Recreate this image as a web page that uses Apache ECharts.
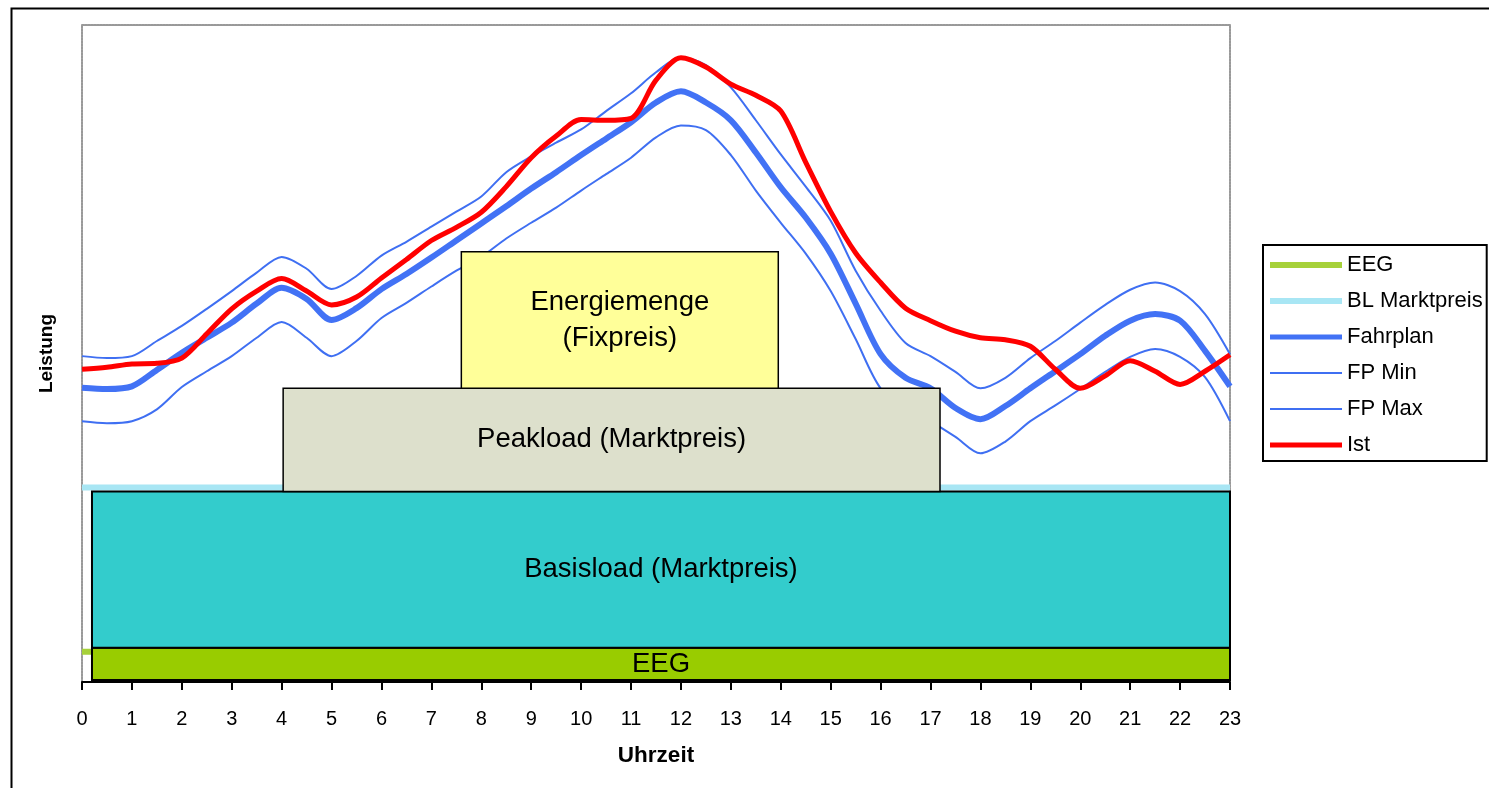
<!DOCTYPE html>
<html>
<head>
<meta charset="utf-8">
<script src="https://cdn.jsdelivr.net/npm/echarts@6/dist/echarts.min.js"></script>
<style>
  html, body { margin: 0; padding: 0; background: #fff; }
  #chart { width: 1489px; height: 788px; }
</style>
</head>
<body>
<div id="chart"></div>
<script>
// Uhrzeit (halbstuendlich)
var halfHours = [0, 0.5, 1, 1.5, 2, 2.5, 3, 3.5, 4, 4.5, 5, 5.5, 6, 6.5, 7, 7.5, 8, 8.5, 9, 9.5,
    10, 10.5, 11, 11.5, 12, 12.5, 13, 13.5, 14, 14.5, 15, 15.5, 16, 16.5, 17, 17.5, 18, 18.5,
    19, 19.5, 20, 20.5, 21, 21.5, 22, 22.5, 23];

var fahrplan = [44.8, 44.6, 45.0, 47.5, 50.1, 52.4, 54.7, 57.6, 60.0, 58.3, 55.1, 56.9, 59.8, 62.1,
    64.6, 67.2, 69.8, 72.4, 75.1, 77.6, 80.2, 82.7, 85.2, 88.2, 89.9, 88.2, 85.5, 80.6, 75.3, 70.7,
    65.2, 57.6, 49.9, 46.3, 44.7, 41.7, 40.0, 42.0, 44.7, 47.3, 49.9, 52.7, 55.0, 56.0, 55.0, 50.4, 45.0];

var fpMax = [49.6, 49.3, 49.6, 51.9, 54.2, 56.8, 59.5, 62.3, 64.7, 62.9, 59.8, 61.8, 64.9, 67.0,
    69.3, 71.6, 73.9, 77.6, 80.0, 82.1, 84.1, 86.9, 89.6, 92.8, 95.1, 93.9, 90.5, 85.5, 80.3, 75.4,
    70.2, 62.6, 56.5, 51.6, 49.6, 47.2, 44.7, 46.3, 49.3, 51.9, 54.7, 57.4, 59.7, 60.8, 59.5, 56.0, 49.9];

var fpMin = [39.7, 39.4, 39.7, 41.5, 44.9, 47.3, 49.6, 52.4, 54.8, 52.4, 49.6, 51.9, 55.4, 57.7,
    60.2, 62.6, 64.7, 67.5, 69.9, 72.2, 74.8, 77.3, 79.8, 82.9, 84.7, 84.0, 80.2, 74.8, 69.9, 65.2,
    59.5, 52.2, 44.7, 42.0, 39.7, 37.3, 34.8, 36.6, 39.7, 42.1, 44.6, 47.2, 49.5, 50.7, 49.5, 46.4, 39.7];

var ist = [47.6, 47.9, 48.4, 48.5, 49.3, 53.0, 56.8, 59.5, 61.4, 59.5, 57.4, 58.6, 61.5, 64.3,
    67.2, 69.2, 71.5, 75.4, 79.8, 83.1, 85.6, 85.5, 85.8, 91.6, 95.0, 93.6, 91.0, 89.3, 86.9, 79.1,
    71.6, 65.3, 60.8, 56.9, 55.0, 53.4, 52.4, 52.1, 51.1, 47.6, 44.7, 46.6, 48.9, 47.3, 45.3, 47.3, 49.8];

// konstante Linien
var levelX = [0, 23];
var eegLevel = [4.6, 4.6];
var blLevel = [29.6, 29.6];

// Bloecke (Beschaffung)
var blockNames = ['EEG', 'Basisload (Marktpreis)', 'Peakload (Marktpreis)', 'Energiemenge\n(Fixpreis)'];
var blockStart = [0.2, 0.2, 4.03, 7.6];
var blockEnd = [23, 23, 17.19, 13.95];
var blockBottom = [0.3, 5.2, 29.0, 44.7];
var blockTop = [5.2, 29.0, 44.7, 65.5];
var blockColors = ['#99CC00', '#33CCCC', '#DDE0CC', '#FFFF99'];

var FONT = 'Liberation Sans, Arial, sans-serif';

function pairs(xs, ys) {
    var out = [];
    for (var i = 0; i < xs.length; i++) out.push([xs[i], ys[i]]);
    return out;
}

var blockData = [];
for (var i = 0; i < blockNames.length; i++) {
    blockData.push([blockStart[i], blockEnd[i], blockBottom[i], blockTop[i]]);
}

var chart = echarts.init(document.getElementById('chart'));
var dotted = { color: '#999', width: 2, type: [2, 1] };

var option = {
    animation: false,
    backgroundColor: '#fff',
    textStyle: { fontFamily: FONT },
    graphic: [{
        type: 'rect',
        left: 9, top: 6,
        shape: { width: 1500, height: 800 },
        style: { fill: 'none', stroke: '#000', lineWidth: 2 },
        z: -10
    }],
    grid: { left: 82, right: 259, top: 25, bottom: 106 },
    legend: {
        orient: 'vertical',
        left: 1263, top: 245,
        padding: [9, 4, 5, 4],
        itemWidth: 72, itemHeight: 22, itemGap: 14,
        borderColor: '#000', borderWidth: 2,
        backgroundColor: '#fff',
        itemStyle: { opacity: 0 },
        textStyle: { fontSize: 22, color: '#000', fontFamily: FONT },
        data: [
            { name: 'EEG', lineStyle: { width: 6 } },
            { name: 'BL Marktpreis', lineStyle: { width: 6 } },
            { name: 'Fahrplan', lineStyle: { width: 5 } },
            { name: 'FP Min', lineStyle: { width: 2 } },
            { name: 'FP Max', lineStyle: { width: 2 } },
            { name: 'Ist', lineStyle: { width: 5 } }
        ]
    },
    xAxis: [{
        type: 'value', min: 0, max: 23, interval: 1,
        name: 'Uhrzeit', nameLocation: 'middle', nameGap: 62,
        nameTextStyle: { fontSize: 22.5, fontWeight: 'bold', color: '#000', fontFamily: FONT },
        axisLine: { show: true, onZero: false, lineStyle: { color: '#000', width: 2 } },
        axisTick: { length: 8, lineStyle: { color: '#000', width: 2 } },
        axisLabel: { fontSize: 20, color: '#000', margin: 27, fontFamily: FONT },
        splitLine: { show: false }
    }, {
        type: 'value', min: 0, max: 23, position: 'top',
        axisLine: { show: true, onZero: false, lineStyle: dotted },
        axisTick: { show: false }, axisLabel: { show: false }, splitLine: { show: false }
    }],
    yAxis: [{
        type: 'value', min: 0, max: 100,
        name: 'Leistung', nameLocation: 'middle', nameGap: 26, nameRotate: 90,
        nameTextStyle: { fontSize: 19, fontWeight: 'bold', color: '#000', fontFamily: FONT },
        axisLine: { show: true, onZero: false, lineStyle: dotted },
        axisTick: { show: false }, axisLabel: { show: false }, splitLine: { show: false }
    }, {
        type: 'value', min: 0, max: 100, position: 'right',
        axisLine: { show: true, onZero: false, lineStyle: dotted },
        axisTick: { show: false }, axisLabel: { show: false }, splitLine: { show: false }
    }],
    series: [
        {
            name: 'EEG', type: 'line', symbol: 'none', z: 2,
            lineStyle: { color: '#A6D13A', width: 6 }, itemStyle: { color: '#A6D13A' },
            data: pairs(levelX, eegLevel)
        },
        {
            name: 'BL Marktpreis', type: 'line', symbol: 'none', z: 2,
            lineStyle: { color: '#A8E6F4', width: 6 }, itemStyle: { color: '#A8E6F4' },
            data: pairs(levelX, blLevel)
        },
        {
            name: 'Fahrplan', type: 'line', symbol: 'none', smooth: 0.3, z: 3,
            lineStyle: { color: '#4272F5', width: 6 }, itemStyle: { color: '#4272F5' },
            data: pairs(halfHours, fahrplan)
        },
        {
            name: 'FP Min', type: 'line', symbol: 'none', smooth: 0.3, z: 3,
            lineStyle: { color: '#3F6FF2', width: 2 }, itemStyle: { color: '#3F6FF2' },
            data: pairs(halfHours, fpMin)
        },
        {
            name: 'FP Max', type: 'line', symbol: 'none', smooth: 0.3, z: 3,
            lineStyle: { color: '#3F6FF2', width: 2 }, itemStyle: { color: '#3F6FF2' },
            data: pairs(halfHours, fpMax)
        },
        {
            name: 'Ist', type: 'line', symbol: 'none', smooth: 0.3, z: 4,
            lineStyle: { color: '#FF0000', width: 5 }, itemStyle: { color: '#FF0000' },
            data: pairs(halfHours, ist)
        },
        {
            name: 'Bloecke', type: 'custom', z: 10, clip: false,
            encode: { x: [0, 1], y: [2, 3] },
            renderItem: function (params, api) {
                var tl = api.coord([api.value(0), api.value(3)]);
                var br = api.coord([api.value(1), api.value(2)]);
                var idx = params.dataIndex;
                return {
                    type: 'rect',
                    shape: { x: tl[0], y: tl[1], width: br[0] - tl[0], height: br[1] - tl[1] },
                    style: { fill: blockColors[idx], stroke: '#000', lineWidth: idx < 2 ? 2 : 1.5 },
                    textContent: {
                        style: {
                            text: blockNames[idx], fontSize: 27.5, fill: '#000',
                            fontFamily: FONT, align: 'center', lineHeight: 36
                        }
                    },
                    textConfig: { position: 'inside' }
                };
            },
            data: blockData
        }
    ]
};
chart.setOption(option);
</script>
</body>
</html>
